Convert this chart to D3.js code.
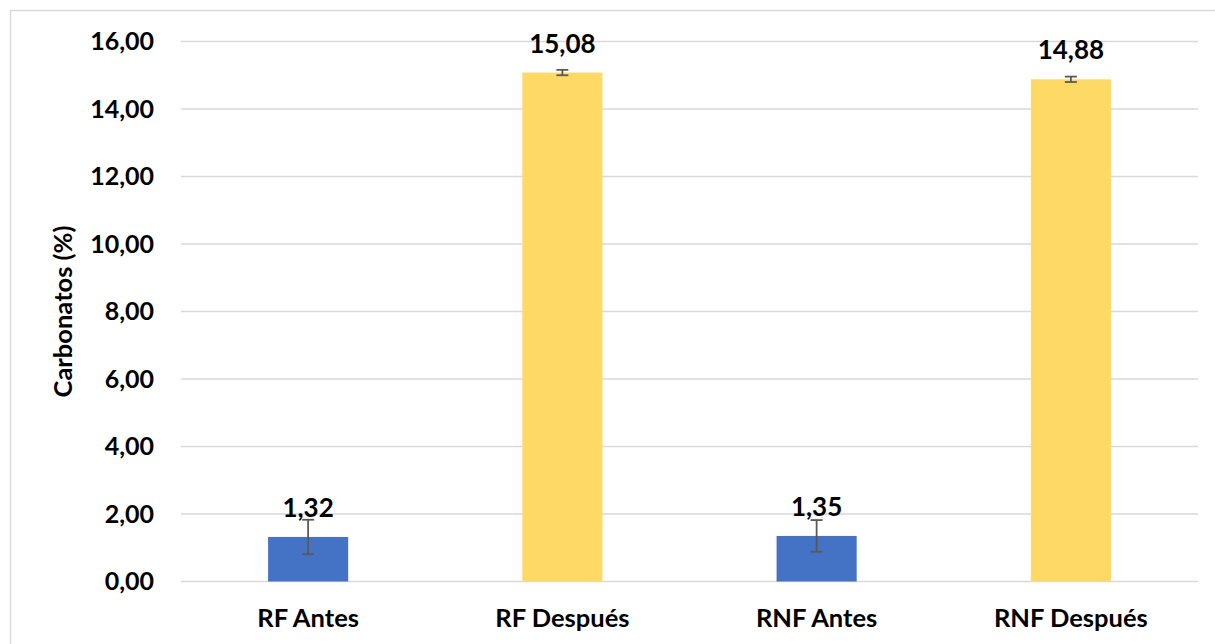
<!DOCTYPE html>
<html>
<head>
<meta charset="utf-8">
<script src="https://cdn.jsdelivr.net/npm/d3@7"></script>
<style>
  body { margin: 0; background: #fff; }
  svg { display: block; }
</style>
</head>
<body>
<svg id="chart" width="1215" height="644"></svg>
<script>
// datos
const categories = ["RF Antes", "RF Después", "RNF Antes", "RNF Después"];
const values = [1.32, 15.08, 1.35, 14.88];
const errors = [0.51, 0.08, 0.47, 0.08];
const barColors = ["#4472C4", "#FFD966", "#4472C4", "#FFD966"];
const yTicks = [0, 2, 4, 6, 8, 10, 12, 14, 16];
const yTitle = "Carbonatos (%)";

const fmt = v => d3.format(".2f")(v).replace(".", ",");

const svg = d3.select("#chart");
const font = "Lato, 'Open Sans', sans-serif";

// marco del grafico
svg.append("rect")
    .attr("x", 10.5).attr("y", 10.5)
    .attr("width", 1230).attr("height", 660)
    .attr("fill", "none")
    .attr("stroke", "#d9d9d9")
    .attr("stroke-width", 1.5);

const plot = {left: 181, right: 1198, top: 41.5, bottom: 581.5};

const x = d3.scaleBand()
    .domain(categories)
    .range([plot.left, plot.right])
    .paddingInner(0.685)
    .paddingOuter(0.3425);

const y = d3.scaleLinear()
    .domain([0, 16])
    .range([plot.bottom, plot.top]);

// lineas de cuadricula
svg.append("g")
    .selectAll("line")
    .data(yTicks)
    .enter()
    .append("line")
    .attr("x1", plot.left)
    .attr("x2", plot.right)
    .attr("y1", d => y(d))
    .attr("y2", d => y(d))
    .attr("stroke", "#d9d9d9")
    .attr("stroke-width", 1.3);

// eje y
const yAxis = svg.append("g")
    .attr("transform", "translate(" + plot.left + ",0)")
    .call(d3.axisLeft(y).tickValues(yTicks).tickFormat(fmt).tickSize(0).tickPadding(27));
yAxis.select(".domain").remove();
yAxis.selectAll("text")
    .style("font-family", font)
    .style("font-weight", "bold")
    .style("font-size", "25px")
    .attr("fill", "#000");

// eje x
const xAxis = svg.append("g")
    .attr("transform", "translate(0," + plot.bottom + ")")
    .call(d3.axisBottom(x).tickSize(0).tickPadding(27));
xAxis.select(".domain").remove();
xAxis.selectAll("text")
    .style("font-family", font)
    .style("font-weight", "bold")
    .style("font-size", "25.5px")
    .attr("fill", "#000");

// titulo eje y
svg.append("text")
    .attr("transform", "translate(72," + ((plot.top + plot.bottom) / 2) + ")rotate(-90)")
    .attr("text-anchor", "middle")
    .style("font-family", font)
    .style("font-weight", "bold")
    .style("font-size", "25.5px")
    .text(yTitle);

const data = categories.map((c, i) => ({cat: c, v: values[i], e: errors[i], color: barColors[i]}));

// barras
svg.append("g")
    .selectAll("rect")
    .data(data)
    .enter()
    .append("rect")
    .attr("x", d => x(d.cat))
    .attr("y", d => y(d.v))
    .attr("width", x.bandwidth())
    .attr("height", d => y(0) - y(d.v))
    .attr("fill", d => d.color);

// barras de error
const err = svg.append("g")
    .attr("stroke", "#595959")
    .attr("stroke-width", 1.8);
data.forEach(d => {
    const cx = x(d.cat) + x.bandwidth() / 2;
    err.append("line")
        .attr("x1", cx).attr("x2", cx)
        .attr("y1", y(d.v + d.e)).attr("y2", y(d.v - d.e));
    [d.v + d.e, d.v - d.e].forEach(v => {
        err.append("line")
            .attr("x1", cx - 6).attr("x2", cx + 6)
            .attr("y1", y(v)).attr("y2", y(v));
    });
});

// etiquetas de valor
svg.append("g")
    .selectAll("text")
    .data(data)
    .enter()
    .append("text")
    .attr("x", d => x(d.cat) + x.bandwidth() / 2)
    .attr("y", d => y(d.v) - 20)
    .attr("text-anchor", "middle")
    .style("font-family", font)
    .style("font-weight", "bold")
    .style("font-size", "26px")
    .text(d => fmt(d.v));
</script>
</body>
</html>
